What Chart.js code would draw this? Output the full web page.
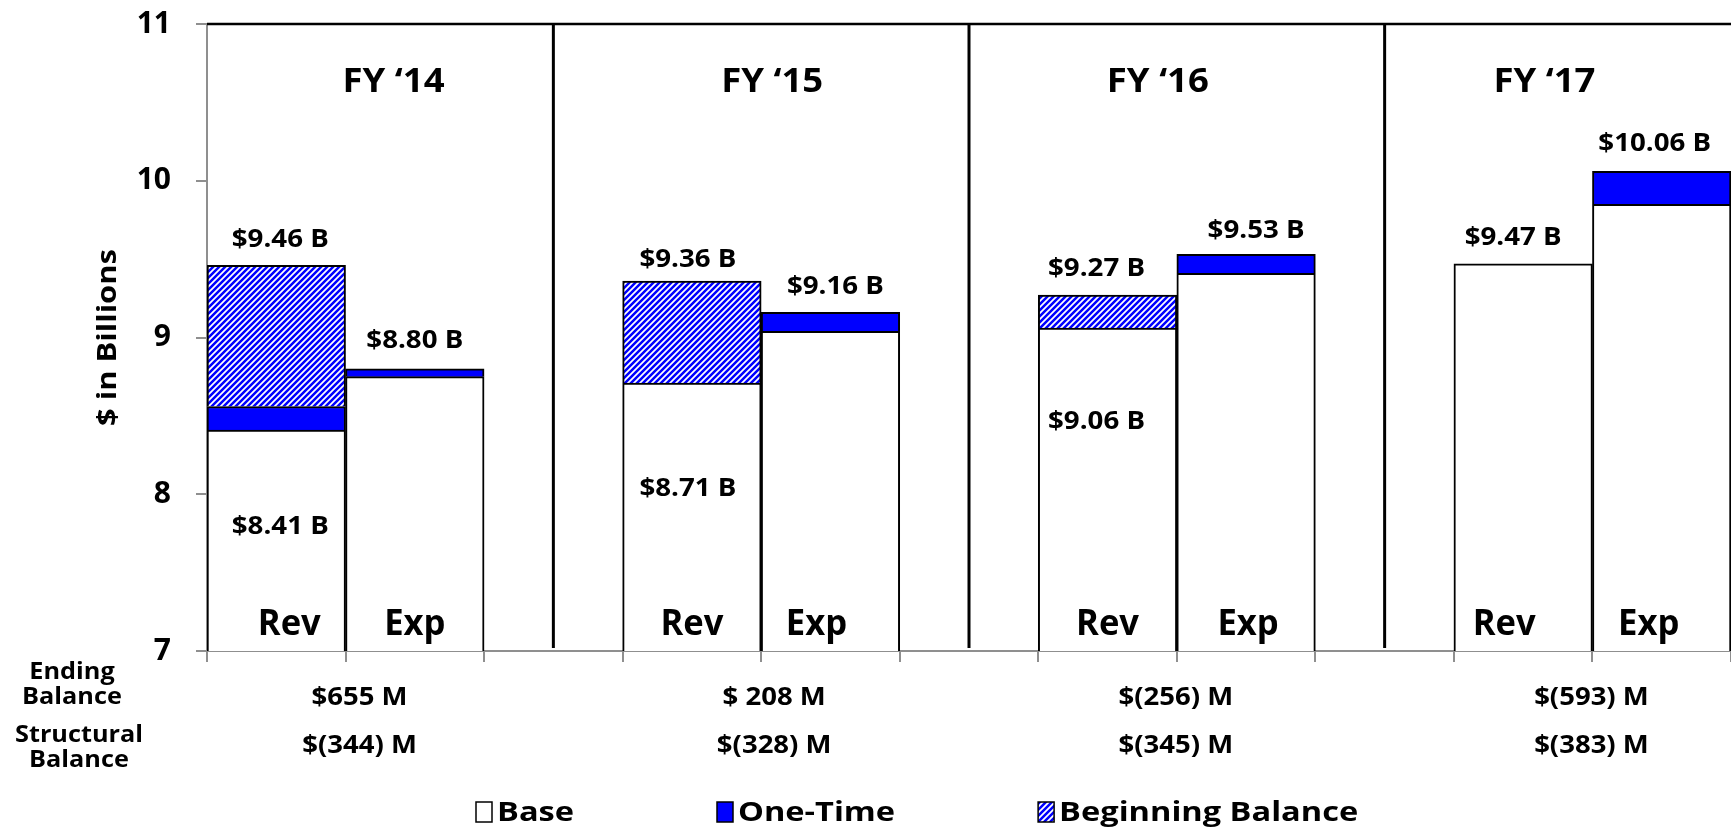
<!DOCTYPE html>
<html><head><meta charset="utf-8">
<script src="https://cdn.jsdelivr.net/npm/chart.js@4.4.1/dist/chart.umd.min.js"></script>
<style>html,body{margin:0;padding:0;background:#fff;overflow:hidden}canvas{display:block}</style>
</head><body>
<canvas id="c" width="1731" height="835"></canvas>
<script>
// ---------- DATA ----------
const categories = ['Rev','Exp','','Rev','Exp','','Rev','Exp','','Rev','Exp'];
const baseValues = [8.41, 8.75, null, 8.71, 9.04, null, 9.06, 9.41, null, 9.47, 9.85];
const oneTimeValues = [0.15, 0.05, null, null, 0.12, null, null, 0.12, null, null, 0.21];
const beginningBalanceValues = [0.90, null, null, 0.65, null, null, 0.21, null, null, null, null];
const topLabels = ['$9.46 B','$8.80 B','','$9.36 B','$9.16 B','','$9.27 B','$9.53 B','','$9.47 B','$10.06 B'];
const baseLabels = ['$8.41 B','','','$8.71 B','','','$9.06 B','','','',''];
const yearLabels = ['FY \u201814','FY \u201815','FY \u201816','FY \u201817'];
const endingBalance = ['$655 M','$ 208 M','$(256) M','$(593) M'];
const structuralBalance = ['$(344) M','$(328) M','$(345) M','$(383) M'];
const yTicks = [7, 8, 9, 10, 11];
const seriesNames = ['Base','One-Time','Beginning Balance'];

// ---------- LAYOUT / STYLE ----------
const FONT = '"Open Sans"';
const CAP = 0.714;
const TEXT = {
  fy:     {size: 33.5, ref: 'FY \u201814', w: 102},
  val:    {size: 24.7, ref: '$9.46 B', w: 97},
  cat:    {size: 35.8, ref: 'Rev', w: 63},
  bottom: {size: 25.5, ref: '$655 M', w: 96},
  row:    {size: 23.3, ref: 'Structural', w: 128},
  legend: {size: 26, ref: 'Base', w: 77},
  ytitle: {size: 27.3, ref: '$ in Billions', w: 177}
};
const nudge = {
  top:  [4, 0, 0, -4, 5, 0, -11, 10, 0, -10, -7],
  topY: [0, -3, 0, 4, 0, 0, -1, 2, 0, -1, -2],
  baseY:[-2, 0, 0, 7, 0, 0, -5, 0, 0, 0, 0],
  cat:  [13, 0, 0, 0, -14, 0, 0, 2, 0, -19, -13],
  year: [48, 11, -19, -48],
  bottom: [14, 13, -1, -1]
};

const BLUE = '#0000FF';
function makeHatch() {
  const s = 6, c = document.createElement('canvas');
  c.width = s; c.height = s;
  const g = c.getContext('2d');
  g.fillStyle = '#fff'; g.fillRect(0, 0, s, s);
  g.strokeStyle = BLUE; g.lineWidth = 2.5; g.lineCap = 'square';
  g.beginPath();
  g.moveTo(-1, s + 1); g.lineTo(s + 1, -1);
  g.moveTo(-1, 1); g.lineTo(1, -1);
  g.moveTo(s - 1, s + 1); g.lineTo(s + 1, s - 1);
  g.stroke();
  return document.getElementById('c').getContext('2d').createPattern(c, 'repeat');
}
const hatch = makeHatch();
const fills = ['#ffffff', BLUE, hatch];

function sxFor(ctx, st) {
  ctx.font = 'bold ' + st.size + 'px ' + FONT;
  return st.w / ctx.measureText(st.ref).width;
}
function drawText(ctx, s, x, capMid, st, align, rot) {
  if (!s) return 0;
  ctx.save();
  const sx = sxFor(ctx, st);
  ctx.font = 'bold ' + st.size + 'px ' + FONT;
  ctx.fillStyle = '#000';
  ctx.textAlign = align || 'center';
  ctx.textBaseline = 'alphabetic';
  ctx.translate(x, capMid);
  if (rot) ctx.rotate(rot);
  ctx.scale(sx, 1);
  ctx.fillText(s, 0, st.size * CAP / 2);
  const w = ctx.measureText(s).width * sx;
  ctx.restore();
  return w;
}

const decor = {
  id: 'decor',
  afterDraw(chart) {
    const ctx = chart.ctx, xs = chart.scales.x, ys = chart.scales.y, ca = chart.chartArea;
    const slot = (xs.getPixelForValue(1) - xs.getPixelForValue(0));
    ctx.save();
    ctx.strokeStyle = '#000'; ctx.lineWidth = 2.5;
    ctx.beginPath(); ctx.moveTo(ca.left, ca.top); ctx.lineTo(ca.right, ca.top); ctx.stroke();
    ctx.lineWidth = 3;
    categories.forEach((c, i) => {
      if (c === '') {
        const x = xs.getPixelForValue(i);
        ctx.beginPath(); ctx.moveTo(x, ca.top); ctx.lineTo(x, ca.bottom - 3); ctx.stroke();
      }
    });
    ctx.restore();
    categories.forEach((c, i) => {
      if (c === '') return;
      const x = xs.getPixelForValue(i);
      const total = (baseValues[i] || 0) + (oneTimeValues[i] || 0) + (beginningBalanceValues[i] || 0);
      drawText(ctx, topLabels[i], x + nudge.top[i], ys.getPixelForValue(total) - 27 + nudge.topY[i], TEXT.val);
      if (baseLabels[i]) drawText(ctx, baseLabels[i], x + nudge.top[i], ys.getPixelForValue(baseValues[i]) + 97 + nudge.baseY[i], TEXT.val);
      drawText(ctx, c, x + nudge.cat[i], ca.bottom - 29, TEXT.cat);
    });
    yearLabels.forEach((y, k) => {
      const bx = xs.getPixelForValue(3 * k) + slot / 2;
      drawText(ctx, y, bx + nudge.year[k], 80, TEXT.fy);
      drawText(ctx, endingBalance[k], bx + nudge.bottom[k], 696, TEXT.bottom);
      drawText(ctx, structuralBalance[k], bx + nudge.bottom[k], 744, TEXT.bottom);
    });
    drawText(ctx, 'Ending', 72, 671, TEXT.row);
    drawText(ctx, 'Balance', 72, 696, TEXT.row);
    drawText(ctx, 'Structural', 79, 734, TEXT.row);
    drawText(ctx, 'Balance', 79, 759, TEXT.row);
    drawText(ctx, '$ in Billions', 106, (ca.top + ca.bottom) / 2, TEXT.ytitle, 'center', -Math.PI / 2);
    let lx = 476; const ly = 812;
    seriesNames.forEach((n, i) => {
      ctx.save();
      ctx.fillStyle = fills[i];
      ctx.fillRect(lx, ly - 10, 16, 20);
      ctx.strokeStyle = '#000'; ctx.lineWidth = 1.5;
      ctx.strokeRect(lx, ly - 10, 16, 20);
      ctx.restore();
      const w = drawText(ctx, n, lx + 21, ly, TEXT.legend, 'left');
      lx += 21 + w + 143;
    });
  }
};

const axisGray = '#8f8f8f';
new Chart(document.getElementById('c'), {
  type: 'bar',
  data: {
    labels: categories,
    datasets: [
      {label: seriesNames[0], data: baseValues, backgroundColor: fills[0]},
      {label: seriesNames[1], data: oneTimeValues, backgroundColor: fills[1]},
      {label: seriesNames[2], data: beginningBalanceValues, backgroundColor: fills[2]}
    ].map(d => Object.assign(d, {borderColor: '#000', borderWidth: 2, barPercentage: 1, categoryPercentage: 1}))
  },
  options: {
    responsive: false, animation: false, devicePixelRatio: 1,
    layout: {padding: {top: 24, right: 0, left: 0, bottom: 0}},
    plugins: {legend: {display: false}, tooltip: {enabled: false}, title: {display: false}},
    scales: {
      x: {
        stacked: true, z: 1,
        grid: {display: true, drawOnChartArea: false, drawTicks: true, tickLength: 11, color: axisGray, lineWidth: 2, offset: true},
        border: {display: true, color: axisGray, width: 2},
        ticks: {display: false},
        afterFit: s => { s.height = 184; s.paddingLeft = 0; s.paddingRight = 0; }
      },
      y: {
        stacked: true, z: 1, min: yTicks[0], max: yTicks[yTicks.length - 1],
        grid: {display: true, drawOnChartArea: false, drawTicks: true, tickLength: 11, color: axisGray, lineWidth: 2},
        border: {display: true, color: axisGray, width: 2},
        afterBuildTicks: s => { s.ticks = yTicks.map(v => ({value: v})); },
        ticks: {color: '#000', padding: 25, font: {family: 'Open Sans', weight: 'bold', size: 30}, callback: v => String(v)},
        afterFit: s => { s.width = 207; s.paddingTop = 0; s.paddingBottom = 0; }
      }
    }
  },
  plugins: [decor]
});
</script>
</body></html>
